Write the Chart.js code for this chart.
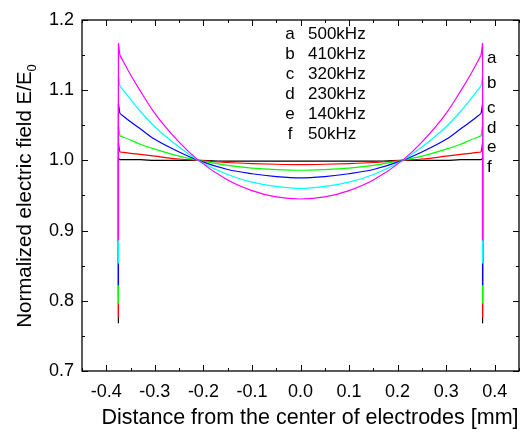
<!DOCTYPE html>
<html>
<head>
<meta charset="utf-8">
<script src="https://cdn.jsdelivr.net/npm/chart.js@4.4.0/dist/chart.umd.min.js"></script>
<style>
  html, body { margin: 0; padding: 0; background: #fff; }
  #wrap { width: 520px; height: 432px; position: relative; }
</style>
</head>
<body>
<div id="wrap"><canvas id="c"></canvas></div>
<script>
// distance from center [mm]
const xs = [-0.372, -0.35, -0.33, -0.3, -0.25, -0.21, -0.15, -0.1, -0.05, 0, 0.05, 0.1, 0.15, 0.21, 0.25, 0.3, 0.33, 0.35, 0.372];

const fieldA = [1.150, 1.122, 1.099, 1.067, 1.026, 1.000, 0.972, 0.957, 0.948, 0.945, 0.948, 0.957, 0.972, 1.000, 1.026, 1.067, 1.099, 1.122, 1.150];
const fieldB = [1.106, 1.087, 1.070, 1.048, 1.019, 1.000, 0.980, 0.969, 0.963, 0.960, 0.963, 0.969, 0.980, 1.000, 1.019, 1.048, 1.070, 1.087, 1.106];
const fieldC = [1.067, 1.055, 1.045, 1.030, 1.012, 1.000, 0.987, 0.981, 0.977, 0.975, 0.977, 0.981, 0.987, 1.000, 1.012, 1.030, 1.045, 1.055, 1.067];
const fieldD = [1.035, 1.029, 1.023, 1.016, 1.006, 1.000, 0.993, 0.989, 0.987, 0.986, 0.987, 0.989, 0.993, 1.000, 1.006, 1.016, 1.023, 1.029, 1.035];
const fieldE = [1.012, 1.010, 1.0085, 1.006, 1.002, 1.000, 0.997, 0.9955, 0.9945, 0.994, 0.9945, 0.9955, 0.997, 1.000, 1.002, 1.006, 1.0085, 1.010, 1.012];
const fieldF = [1.001, 1.001, 1.001, 1.000, 1.000, 1.000, 0.999, 0.999, 0.999, 0.999, 0.999, 0.999, 0.999, 1.000, 1.000, 1.000, 1.001, 1.001, 1.001];

// electrode edge spikes
const edgeX = 0.375;
const spikeTop = [1.167, 1.121, 1.081, 1.050, 1.025, 1.003];
const spikeBottom = [0.886, 0.853, 0.822, 0.796, 0.776, 0.768];

const letters = ["a", "b", "c", "d", "e", "f"];
const freqs = ["500kHz", "410kHz", "320kHz", "230kHz", "140kHz", "50kHz"];
const colors = ["#ff00ff", "#00ffff", "#0000ff", "#00ff00", "#ff0000", "#000000"];
const endLabelY = [1.145, 1.110, 1.074, 1.046, 1.019, 0.990];

const xTicks = [-0.4, -0.3, -0.2, -0.1, 0.0, 0.1, 0.2, 0.3, 0.4];
const yTicks = [0.7, 0.8, 0.9, 1.0, 1.1, 1.2];

const series = [fieldA, fieldB, fieldC, fieldD, fieldE, fieldF];
const FONT = "'Liberation Sans', Arial, sans-serif";

const datasets = [];
series.forEach((vals, i) => {
  datasets.push({
    data: xs.map((x, j) => ({ x: x, y: vals[j] })),
    borderColor: colors[i],
    borderWidth: 1.2,
    pointRadius: 0,
    cubicInterpolationMode: "monotone",
    order: i,
  });
  datasets.push({
    data: [
      { x: -edgeX, y: spikeBottom[i] },
      { x: -edgeX, y: spikeTop[i] },
      { x: xs[0], y: vals[0] },
    ],
    borderColor: colors[i],
    borderWidth: 1.2,
    pointRadius: 0,
    tension: 0,
    order: i,
  });
  datasets.push({
    data: [
      { x: edgeX, y: spikeBottom[i] },
      { x: edgeX, y: spikeTop[i] },
      { x: xs[xs.length - 1], y: vals[vals.length - 1] },
    ],
    borderColor: colors[i],
    borderWidth: 1.2,
    pointRadius: 0,
    tension: 0,
    order: i,
  });
});

// frame, inward ticks, titles and labels
const decorations = {
  id: "decorations",
  afterDraw(chart) {
    const ctx = chart.ctx;
    const a = chart.chartArea;
    const sx = chart.scales.x, sy = chart.scales.y;
    ctx.save();
    ctx.strokeStyle = "#000";
    ctx.lineWidth = 1.3;
    ctx.strokeRect(a.left, a.top, a.right - a.left, a.bottom - a.top);

    ctx.lineWidth = 1;
    ctx.beginPath();
    for (let v = -0.45; v <= 0.451; v += 0.05) {
      const px = Math.round(sx.getPixelForValue(v)) + 0.5;
      const major = Math.abs(Math.round(v * 10) - v * 10) < 1e-6;
      const len = major ? 6 : 3;
      ctx.moveTo(px, a.bottom); ctx.lineTo(px, a.bottom - len);
      ctx.moveTo(px, a.top); ctx.lineTo(px, a.top + len);
    }
    for (let v = 0.7; v <= 1.201; v += 0.05) {
      const py = Math.round(sy.getPixelForValue(v)) + 0.5;
      const major = Math.abs(Math.round(v * 10) - v * 10) < 1e-6;
      const len = major ? 6 : 3;
      ctx.moveTo(a.left, py); ctx.lineTo(a.left + len, py);
      ctx.moveTo(a.right, py); ctx.lineTo(a.right - len, py);
    }
    ctx.stroke();

    ctx.fillStyle = "#000";
    // x title
    ctx.font = "21.5px " + FONT;
    ctx.textAlign = "center";
    ctx.textBaseline = "middle";
    ctx.fillText("Distance from the center of electrodes [mm]", 310, 418);

    // y title with subscript
    ctx.save();
    ctx.translate(25, 196);
    ctx.rotate(-Math.PI / 2);
    const main = "Normalized electric field E/E";
    ctx.font = "20.5px " + FONT;
    const w1 = ctx.measureText(main).width;
    ctx.font = "13px " + FONT;
    const w2 = ctx.measureText("0").width;
    const start = -(w1 + w2) / 2;
    ctx.textAlign = "left";
    ctx.font = "20.5px " + FONT;
    ctx.fillText(main, start, 0);
    ctx.font = "13px " + FONT;
    ctx.fillText("0", start + w1, 7);
    ctx.restore();

    // in-plot legend
    ctx.font = "17px " + FONT;
    ctx.textBaseline = "middle";
    letters.forEach((l, i) => {
      const y = 34 + i * 20;
      ctx.textAlign = "center";
      ctx.fillText(l, 290, y);
      ctx.textAlign = "left";
      ctx.fillText(freqs[i], 308, y);
    });

    // curve end labels
    ctx.textAlign = "left";
    letters.forEach((l, i) => {
      ctx.fillText(l, 487, sy.getPixelForValue(endLabelY[i]));
    });
    ctx.restore();
  },
};

new Chart(document.getElementById("c"), {
  type: "line",
  data: { datasets: datasets },
  options: {
    responsive: true,
    maintainAspectRatio: false,
    animation: false,
    layout: { padding: { top: 20, right: 1, left: 0, bottom: 0 } },
    plugins: { legend: { display: false }, tooltip: { enabled: false } },
    scales: {
      x: {
        type: "linear",
        min: -0.45,
        max: 0.45,
        afterBuildTicks: (s) => { s.ticks = xTicks.map((v) => ({ value: v })); },
        afterFit: (s) => { s.height = 61; },
        grid: { display: false },
        border: { display: false },
        ticks: {
          color: "#000",
          padding: 2,
          maxRotation: 0,
          font: { size: 18, family: FONT },
          callback: (v) => v.toFixed(1),
        },
      },
      y: {
        min: 0.7,
        max: 1.2,
        afterBuildTicks: (s) => { s.ticks = yTicks.map((v) => ({ value: v })); },
        afterFit: (s) => { s.width = 82; },
        grid: { display: false },
        border: { display: false },
        ticks: {
          color: "#000",
          padding: 0,
          font: { size: 18, family: FONT },
          callback: (v) => v.toFixed(1),
        },
      },
    },
  },
  plugins: [decorations],
});
</script>
</body>
</html>
